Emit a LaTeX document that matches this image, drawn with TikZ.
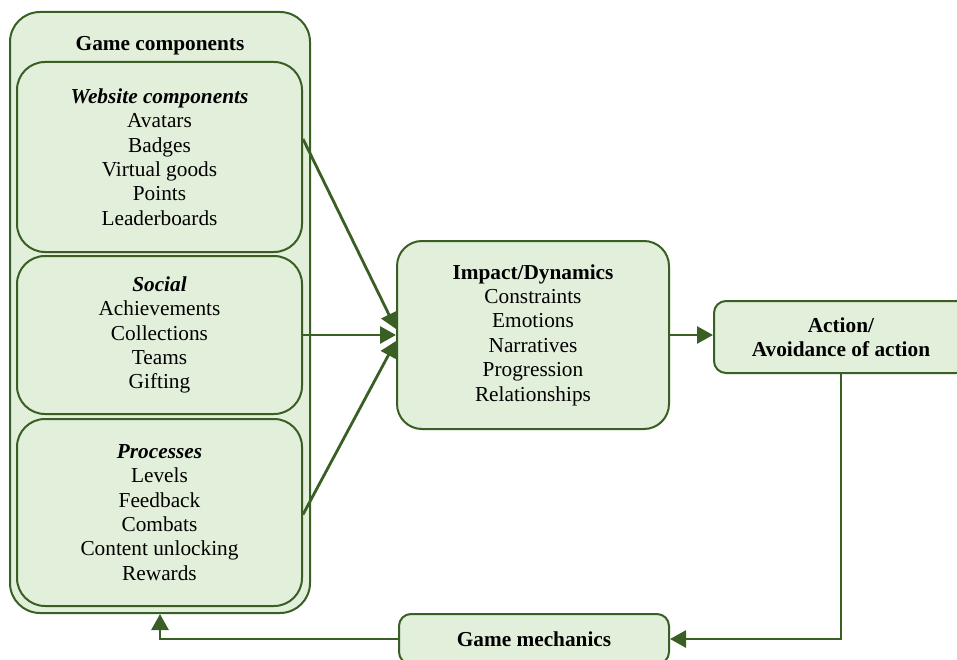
\documentclass[tikz,border=0pt]{standalone}
\usepackage{fontspec}
\setmainfont{Liberation Serif}
\usetikzlibrary{arrows.meta}
\definecolor{boxfill}{HTML}{E2EFDA}
\definecolor{boxline}{HTML}{3A5F24}
\begin{document}
\begin{tikzpicture}[x=1pt,y=-1pt,
  box/.style={draw=boxline,fill=boxfill,line width=2pt,inner sep=0pt,align=center,
    font=\fontsize{21.3}{24.4}\selectfont},
  conn/.style={draw=boxline,line width=2.8pt,-{Triangle[length=16pt,width=17pt]}}]
\useasboundingbox (0,0) rectangle (957,660);
% outer container
\node[box,rounded corners=30pt,minimum width=300pt,minimum height=601pt] (outer) at (160,312.5) {};
\node[font=\fontsize{21.3}{24}\selectfont\bfseries,inner sep=0pt] (gct) at (160,46) {Game components};
\node[box,rounded corners=28pt,minimum width=285pt,minimum height=190pt] (web) at (159.5,157)
  {\textbf{\textit{Website components}}\\Avatars\\Badges\\Virtual goods\\Points\\Leaderboards};
\node[box,rounded corners=28pt,minimum width=285pt,minimum height=158pt] (soc) at (159.5,335)
  {\textbf{\textit{Social}}\\Achievements\\Collections\\Teams\\Gifting};
\node[box,rounded corners=28pt,minimum width=285pt,minimum height=187pt] (proc) at (159.5,512.5)
  {\textbf{\textit{Processes}}\\Levels\\Feedback\\Combats\\Content unlocking\\Rewards};
\node[box,rounded corners=25pt,minimum width=272pt,minimum height=188pt] (imp) at (533,335)
  {\textbf{Impact/Dynamics}\\Constraints\\Emotions\\Narratives\\Progression\\Relationships};
\node[box,rounded corners=12pt,minimum width=254pt,minimum height=72pt] (act) at (841,337)
  {\textbf{Action/}\\\textbf{Avoidance of action}};
\node[box,rounded corners=12pt,minimum width=270pt,minimum height=50pt] (gm) at (534,639)
  {\textbf{Game mechanics}};
% connectors
\draw[conn] ([yshift=18pt]web.east) -- ([yshift=6pt]imp.west);
\draw[conn] (soc.east) -- (imp.west);
\draw[conn] ([yshift=-2pt]proc.east) -- ([yshift=-6pt]imp.west);
\draw[conn] (imp.east) -- (imp.east -| act.west);
\draw[conn] (act.south) |- (gm.east);
\draw[conn] (gm.west) -| (outer.south);
\end{tikzpicture}
\end{document}
